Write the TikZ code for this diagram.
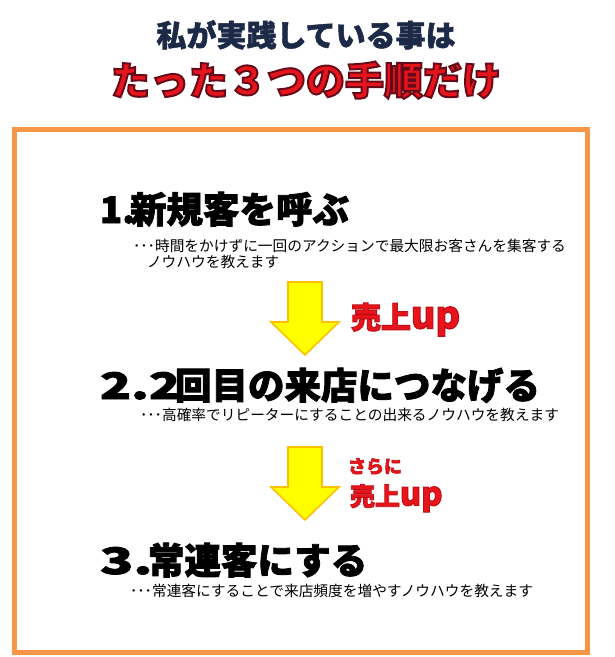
\documentclass[tikz,border=0pt]{standalone}
\usepackage{fontspec}
\usepackage{graphicx}
\newfontfamily\cjk{Noto Sans CJK JP}[BoldFeatures={FakeBold=1.5}]
\newfontfamily\cjkh{Noto Sans CJK JP}[BoldFeatures={FakeBold=2.2}]
\newfontfamily\cjkol{Noto Sans CJK JP}[BoldFeatures={FakeBold=5}]
\newfontfamily\cjkup{Noto Sans CJK JP}[BoldFeatures={FakeBold=3}]
\definecolor{navy}{HTML}{1C2A48}
\definecolor{redtxt}{HTML}{E8141B}
\definecolor{boxorange}{HTML}{F79646}
\definecolor{arrowline}{HTML}{FFC000}
\definecolor{arrowfill}{HTML}{FFFF00}
% fill colour / stroke colour for outlined (fake bold) text
\newcommand\strokedtxt[3]{\special{pdf:bcolor #1 #2}#3\special{pdf:ecolor}}
\tikzset{
  txt/.style={inner sep=0pt, outer sep=0pt, anchor=base west},
  heading/.style={txt, font=\cjkh\bfseries\fontsize{36.5}{40}\selectfont, text=black},
  subtxt/.style={txt, font=\cjk\fontsize{14.7}{16}\selectfont, text=black},
  uptxt/.style={txt, text=redtxt},
  downarrow/.style={fill=arrowfill, draw=arrowline, line width=1.6pt, line join=miter}
}
\begin{document}
\begin{tikzpicture}[x=1pt,y=-1pt]
\useasboundingbox (0,0) rectangle (615,657);
\fill[white] (0,0) rectangle (615,657);
\draw[boxorange, line width=5pt] (14.5,129.5) rectangle (587.5,652.5);
% titles
\node[inner sep=0pt, anchor=base, font=\cjk\bfseries\fontsize{30}{34}\selectfont, text=navy] (t1) at (306,46.5) {私が実践している事は};
\node[inner sep=0pt, anchor=base, font=\cjkol\bfseries\fontsize{39}{42}\selectfont, text=redtxt] (t2) at (306,95) {\strokedtxt{[0.91 0.08 0.11]}{[0.40 0.04 0.10]}{たった３つの手順だけ}};
% step 1
\node[heading] (h1) at (100,223) {\makebox[30pt][l]{1.}新規客を呼ぶ};
\node[subtxt] (s1) at (133,251.5) {･･･時間をかけずに一回のアクションで最大限お客さんを集客する};
\node[subtxt] (s1b) at (147,267.5) {ノウハウを教えます};
% arrow 1
\draw[downarrow] (288,282) -- (322,282) -- (322,322) -- (339,322) -- (305,355) -- (271,322) -- (288,322) -- cycle;
\node[uptxt, font=\cjkup\bfseries\fontsize{30}{32}\selectfont] (u1) at (351,328.5) {\strokedtxt{[0.91 0.08 0.11]}{[0.75 0.05 0.08]}{売上\scalebox{1.25}{up}}};
% step 2
\node[heading] (h2) at (100,399) {\makebox[75pt][l]{\scalebox{1.4}[1]{2.2}}回目の来店につなげる};
\node[subtxt] (s2) at (140,420.5) {･･･高確率でリピーターにすることの出来るノウハウを教えます};
% arrow 2
\draw[downarrow] (288,447) -- (322,447) -- (322,487) -- (339,487) -- (305,520) -- (271,487) -- (288,487) -- cycle;
\node[uptxt, font=\cjkup\bfseries\fontsize{18}{20}\selectfont] (u2a) at (348,473) {\strokedtxt{[0.91 0.08 0.11]}{[0.75 0.05 0.08]}{さらに}};
\node[uptxt, font=\cjkup\bfseries\fontsize{25}{28}\selectfont] (u2) at (350,505.5) {\strokedtxt{[0.91 0.08 0.11]}{[0.75 0.05 0.08]}{売上\scalebox{1.3}{up}}};
% step 3
\node[heading] (h3) at (100,574) {\makebox[48pt][l]{\scalebox{1.5}[1]{3.}}常連客にする};
\node[subtxt] (s3) at (130,596.5) {･･･常連客にすることで来店頻度を増やすノウハウを教えます};
\end{tikzpicture}
\end{document}
